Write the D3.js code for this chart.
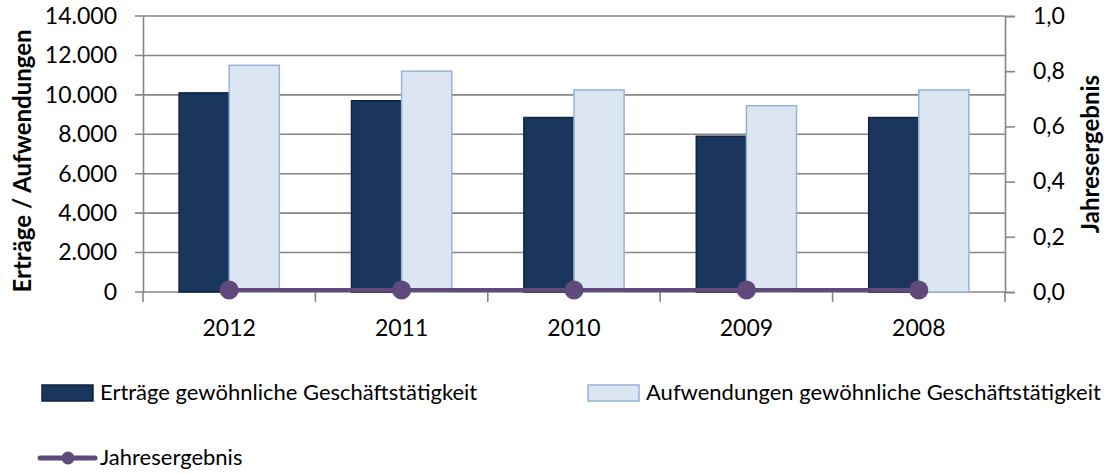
<!DOCTYPE html>
<html>
<head>
<meta charset="utf-8">
<script src="https://cdn.jsdelivr.net/npm/d3@7"></script>
<style>
  body { margin: 0; background: #fff; }
  text { font-family: Lato, "Open Sans", sans-serif; fill: #000; }
</style>
</head>
<body>
<svg class="chart"></svg>
<script>
let width = 1111,
  height = 473;

// data
let years = ["2012", "2011", "2010", "2009", "2008"];
let ertraege = [10100, 9700, 8850, 7900, 8850];
let aufwendungen = [11500, 11200, 10250, 9450, 10250];
let jahresergebnis = [0, 0, 0, 0, 0];
let leftTicks = [0, 2000, 4000, 6000, 8000, 10000, 12000, 14000];
let rightTicks = [0, 0.2, 0.4, 0.6, 0.8, 1.0];

let series = ["Erträge gewöhnliche Geschäftstätigkeit", "Aufwendungen gewöhnliche Geschäftstätigkeit"];
let colors = { fill: ["#1b365d", "#dce6f2"], stroke: ["#10253f", "#95b3d7"] };
let lineColor = "#604a7b";
let grid = "#868686";

let plot = { left: 143, right: 1005, top: 16, bottom: 292 };

let svg = d3.select(".chart").attr("width", width).attr("height", height);

let x = d3.scaleBand().domain(years).range([plot.left, plot.right]).padding(0);
let x1 = d3.scaleBand().domain([0, 1]).range([0, x.bandwidth()]).paddingInner(0).paddingOuter(0.72);
let y = d3.scaleLinear().domain([0, 14000]).range([plot.bottom, plot.top]);
let y2 = d3.scaleLinear().domain([0, 1]).range([plot.bottom, plot.top]);

let deFmt = d3.formatLocale({ decimal: ",", thousands: ".", grouping: [3], currency: ["", "€"] });

// gridlines
svg.append("g")
  .selectAll("line")
  .data(leftTicks)
  .enter()
  .append("line")
  .attr("x1", plot.left - 8)
  .attr("x2", plot.right)
  .attr("y1", d => y(d))
  .attr("y2", d => y(d))
  .attr("stroke", grid)
  .attr("stroke-width", 1.6);

// left axis
let leftAxis = svg.append("g")
  .attr("transform", `translate(${plot.left},0)`)
  .call(d3.axisLeft(y).tickValues(leftTicks).tickSize(0).tickPadding(26).tickFormat(deFmt.format(",.0f")));
leftAxis.select(".domain").attr("stroke", grid).attr("stroke-width", 1.6);
leftAxis.selectAll("text").style("font-size", "23px").style("font-family", "Lato");

// right axis
let rightAxis = svg.append("g")
  .attr("transform", `translate(${plot.right},0)`)
  .call(d3.axisRight(y2).tickValues(rightTicks).tickSize(10).tickPadding(18).tickFormat(deFmt.format(".1f")));
rightAxis.select(".domain").attr("stroke", grid).attr("stroke-width", 1.6);
rightAxis.selectAll(".tick line").attr("stroke", grid).attr("stroke-width", 1.6);
rightAxis.selectAll("text").style("font-size", "23px").style("font-family", "Lato");

// bottom axis: ticks at band boundaries
let bounds = years.map(d => x(d)).concat([plot.right]);
svg.append("g")
  .selectAll("line")
  .data(bounds)
  .enter()
  .append("line")
  .attr("x1", d => d)
  .attr("x2", d => d)
  .attr("y1", plot.bottom)
  .attr("y2", plot.bottom + 10)
  .attr("stroke", grid)
  .attr("stroke-width", 1.6);

svg.append("g")
  .selectAll("text")
  .data(years)
  .enter()
  .append("text")
  .attr("x", d => x(d) + x.bandwidth() / 2)
  .attr("y", 336)
  .attr("text-anchor", "middle")
  .style("font-size", "23px")
  .text(d => d);

// bars
let barData = [];
years.forEach((yr, i) => {
  barData.push({ year: yr, s: 0, v: ertraege[i] });
  barData.push({ year: yr, s: 1, v: aufwendungen[i] });
});
svg.append("g")
  .selectAll("rect")
  .data(barData)
  .enter()
  .append("rect")
  .attr("x", d => x(d.year) + x1(d.s))
  .attr("y", d => y(d.v))
  .attr("width", x1.bandwidth())
  .attr("height", d => y(0) - y(d.v))
  .attr("fill", d => colors.fill[d.s])
  .attr("stroke", d => colors.stroke[d.s])
  .attr("stroke-width", 1.5);

// line for Jahresergebnis
let line = d3.line()
  .x((d, i) => x(years[i]) + x.bandwidth() / 2)
  .y(d => y2(d) - 2);
svg.append("path")
  .datum(jahresergebnis)
  .attr("d", line)
  .attr("fill", "none")
  .attr("stroke", lineColor)
  .attr("stroke-width", 4);
svg.append("g")
  .selectAll("circle")
  .data(jahresergebnis)
  .enter()
  .append("circle")
  .attr("cx", (d, i) => x(years[i]) + x.bandwidth() / 2)
  .attr("cy", d => y2(d) - 2)
  .attr("r", 9.5)
  .attr("fill", lineColor);

// axis titles
svg.append("text")
  .attr("transform", `translate(31,${(plot.top + plot.bottom) / 2 + 7}) rotate(-90)`)
  .attr("text-anchor", "middle")
  .style("font-size", "24px")
  .style("font-weight", "bold")
  .text("Erträge / Aufwendungen");
svg.append("text")
  .attr("transform", `translate(1099,154) rotate(-90)`)
  .attr("text-anchor", "middle")
  .style("font-size", "24px")
  .style("font-weight", "bold")
  .text("Jahresergebnis");

// legend
let legend = svg.append("g");
[0, 1].forEach(s => {
  let lx = s === 0 ? 42 : 588;
  legend.append("rect")
    .attr("x", lx).attr("y", 385).attr("width", 51).attr("height", 16)
    .attr("fill", colors.fill[s]).attr("stroke", colors.stroke[s]).attr("stroke-width", 1.5);
  legend.append("text")
    .attr("x", lx + 58).attr("y", 400)
    .style("font-size", "22px")
    .text(series[s]);
});
legend.append("line")
  .attr("x1", 40).attr("x2", 95).attr("y1", 458).attr("y2", 458)
  .attr("stroke", lineColor).attr("stroke-width", 5).attr("stroke-linecap", "round");
legend.append("circle").attr("cx", 68).attr("cy", 458).attr("r", 6.5).attr("fill", lineColor);
legend.append("text")
  .attr("x", 100).attr("y", 465)
  .style("font-size", "22px")
  .text("Jahresergebnis");
</script>
</body>
</html>
